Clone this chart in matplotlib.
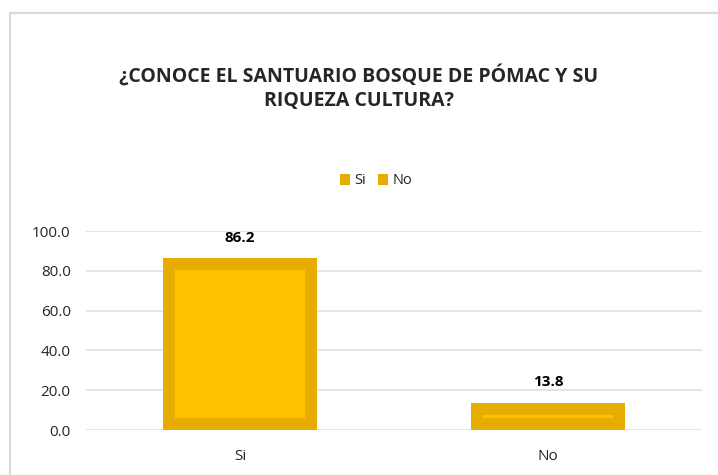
import matplotlib.pyplot as plt
from matplotlib.patches import Rectangle, Patch

categorias = ['Si', 'No']
valores = [86.2, 13.8]
yticks = [0, 20, 40, 60, 80, 100]

titulo = '¿CONOCE EL SANTUARIO BOSQUE DE PÓMAC Y SU\nRIQUEZA CULTURA?'

plt.rcParams['font.family'] = ['Open Sans', 'DejaVu Sans']

fig = plt.figure(figsize=(7.18, 4.75), dpi=100)

# marco del gráfico
fig.patches.append(Rectangle((10 / 718, -0.1), 1.2, 1 - 13 / 475 + 0.1,
                             transform=fig.transFigure, fill=False,
                             edgecolor='#D9D9D9', linewidth=1.5))

ax = fig.add_axes([86 / 718, 1 - 430 / 475, 616 / 718, 199 / 475])

x = list(range(len(categorias)))
bars = ax.bar(x, valores, width=0.5, color='#FFC000', edgecolor='#E6AC00',
              linewidth=17, zorder=3)
for b in bars:
    b.set_clip_path(b)  # borde solo por dentro

for xi, v in zip(x, valores):
    ax.annotate(f'{v:.1f}', (xi, v), xytext=(0, 15), textcoords='offset points',
                ha='center', va='center', fontsize=11, fontweight='bold',
                color='black')

ax.set_xlim(-0.5, 1.5)
ax.set_ylim(0, 100)
ax.set_yticks(yticks)
ax.set_yticklabels([f'{t:.1f}' for t in yticks])
ax.set_xticks(x)
ax.set_xticklabels(categorias)
ax.tick_params(length=0, labelsize=11, labelcolor='#262626')
ax.tick_params(axis='y', pad=11)
ax.tick_params(axis='x', pad=14)
ax.grid(axis='y', color='#E0E0E0', linewidth=1.2, zorder=0)
for s in ax.spines.values():
    s.set_visible(False)

fig.text(0.5, 1 - 88 / 475, titulo, ha='center', va='center',
         fontsize=14, fontweight='bold', color='#262626', linespacing=1.3)

handles = [Patch(facecolor='#E6AC00', edgecolor='none', label=c) for c in categorias]
fig.legend(handles=handles, loc='center', bbox_to_anchor=(376 / 718, 1 - 181 / 475),
           ncol=2, frameon=False, fontsize=10.5, handlelength=0.7, handleheight=0.7,
           handletextpad=0.3, columnspacing=0.8, labelcolor='#262626')

fig.savefig('out.png', dpi=100)
